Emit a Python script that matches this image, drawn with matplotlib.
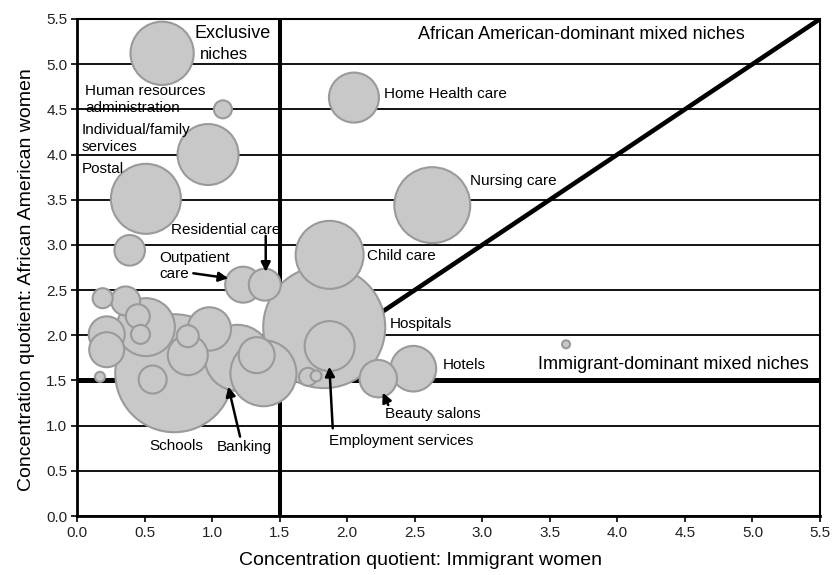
import numpy as np
import matplotlib.pyplot as plt

plt.rcParams['font.family'] = ['Liberation Sans', 'DejaVu Sans']

# concentration quotients per industry niche
cq_immigrant = [0.63, 1.08, 0.97, 0.51, 0.39, 1.23, 1.39, 1.87, 1.83, 1.87,
                1.71, 1.77, 2.23, 2.49, 3.62, 2.63, 2.05,
                0.19, 0.36, 0.51, 0.45, 0.47, 0.22, 0.22, 0.17,
                0.72, 0.56, 0.82, 0.82, 0.98, 1.19, 1.33, 1.38]
cq_african = [5.12, 4.50, 4.00, 3.51, 2.94, 2.56, 2.56, 2.89, 2.09, 1.88,
              1.54, 1.55, 1.52, 1.63, 1.90, 3.44, 4.63,
              2.41, 2.38, 2.09, 2.21, 2.01, 2.01, 1.84, 1.54,
              1.58, 1.51, 1.99, 1.78, 2.07, 1.75, 1.78, 1.58]
# relative employment (bubble area)
employment = [10.0, 0.81, 9.3, 12.25, 2.34, 3.24, 2.56, 11.56, 37.2, 6.25,
              0.81, 0.30, 3.5, 5.2, 0.16, 14.4, 6.25,
              1.0, 2.1, 8.4, 1.44, 0.9, 3.24, 3.06, 0.25,
              34.8, 1.96, 1.21, 4.0, 4.7, 10.9, 3.24, 10.9]

ticks = np.arange(0, 5.51, 0.5)

x = np.array(cq_immigrant)
y = np.array(cq_african)
w = np.array(employment)
order = np.argsort(-w)  # big bubbles first

fig = plt.figure(figsize=(8.36, 5.75), dpi=100)
ax = fig.add_axes([0.0921, 0.1026, 0.8888, 0.8644])

ax.set_xlim(0, 5.5)
ax.set_ylim(0, 5.5)
ax.set_xticks(ticks)
ax.set_yticks(ticks)
ax.set_xticklabels(['%.1f' % t for t in ticks])
ax.set_yticklabels(['%.1f' % t for t in ticks])
ax.set_axisbelow(True)
ax.yaxis.grid(True, color='black', lw=1.3)

# niche boundaries
ax.axvline(1.5, color='black', lw=2.9, zorder=1)
ax.axhline(1.5, color='black', lw=3.6, zorder=1)
ax.plot([1.5, 5.5], [1.5, 5.5], color='black', lw=3.3, zorder=1, solid_capstyle='butt')

ax.scatter(x[order], y[order], s=w[order] * 207.4, c='#c8c8c8',
           edgecolors='#9a9a9a', linewidths=1.5, zorder=2, clip_on=False)

for side in ['left', 'bottom']:
    ax.spines[side].set_linewidth(2)
for side in ['top', 'right']:
    ax.spines[side].set_linewidth(1.5)
ax.tick_params(direction='out', length=4, width=1.2, labelsize=11,
               labelcolor='#222222', pad=3)

ax.set_xlabel('Concentration quotient: Immigrant women', fontsize=14)
ax.set_ylabel('Concentration quotient: African American women', fontsize=14)
ax.xaxis.set_label_coords(0.462, -0.073)
ax.yaxis.set_label_coords(-0.056, 0.475)

lab = dict(fontsize=11, va='top', ha='left', zorder=3)
ax.text(0.868, 5.434, 'Exclusive', fontsize=13, va='top', zorder=3)
ax.text(0.910, 5.194, 'niches', fontsize=12, va='top', zorder=3)
ax.text(2.524, 5.423, 'African American-dominant mixed niches', fontsize=13, va='top', zorder=3)
ax.text(3.413, 1.771, 'Immigrant-dominant mixed niches', fontsize=13, va='top', zorder=3)
ax.text(0.059, 4.778, 'Human resources\nadministration', linespacing=1.25, **lab)
ax.text(0.035, 4.346, 'Individual/family\nservices', linespacing=1.25, **lab)
ax.text(0.035, 3.914, 'Postal', **lab)
ax.text(0.696, 3.246, 'Residential care', **lab)
ax.text(0.607, 2.936, 'Outpatient\ncare', linespacing=1.25, **lab)
ax.text(2.149, 2.952, 'Child care', **lab)
ax.text(2.909, 3.785, 'Nursing care', **lab)
ax.text(2.312, 2.206, 'Hospitals', **lab)
ax.text(2.704, 1.745, 'Hotels', **lab)
ax.text(2.282, 1.210, 'Beauty salons', **lab)
ax.text(1.868, 0.904, 'Employment services', **lab)
ax.text(2.273, 4.744, 'Home Health care', **lab)
ax.text(0.535, 0.852, 'Schools', **lab)
ax.text(1.034, 0.841, 'Banking', **lab)

arrow = dict(arrowstyle='-|>', color='black', lw=1.8, mutation_scale=14,
             shrinkA=0, shrinkB=0)
ax.annotate('', xy=(1.397, 2.702), xytext=(1.397, 3.10), arrowprops=arrow, zorder=3)
ax.annotate('', xy=(1.120, 2.631), xytext=(0.861, 2.686), arrowprops=arrow, zorder=3)
ax.annotate('', xy=(1.120, 1.431), xytext=(1.207, 0.878), arrowprops=arrow, zorder=3)
ax.annotate('', xy=(1.868, 1.652), xytext=(1.893, 0.971), arrowprops=arrow, zorder=3)
ax.annotate('', xy=(2.263, 1.365), xytext=(2.304, 1.228), arrowprops=arrow, zorder=3)

fig.savefig('out.png', dpi=100)
